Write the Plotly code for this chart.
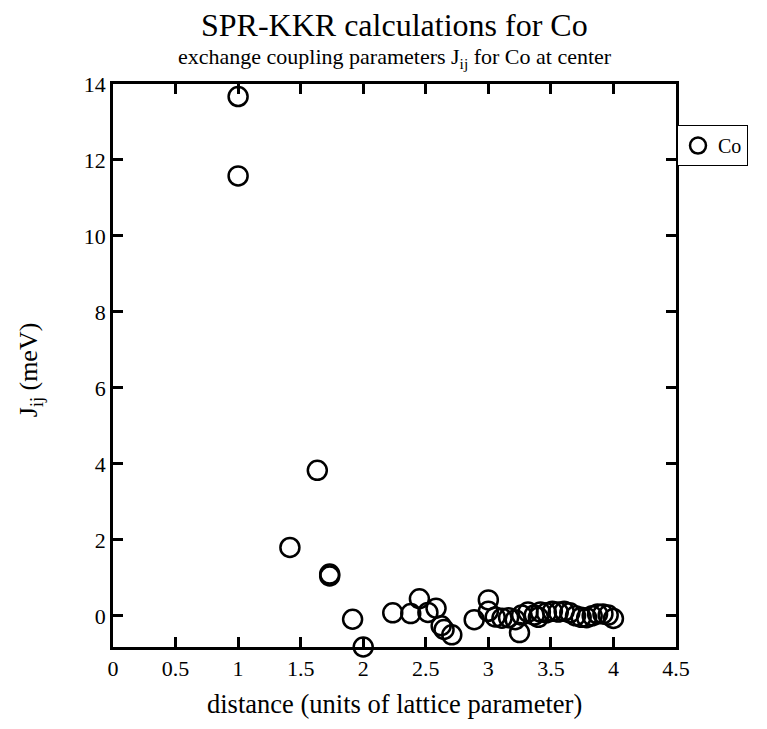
import plotly.graph_objects as go

distance = [1.0, 1.0, 1.414, 1.633, 1.732, 1.732, 1.915, 2.0, 2.236, 2.380,
            2.449, 2.517, 2.582, 2.623, 2.646, 2.708, 2.887, 3.0, 3.0, 3.055,
            3.109, 3.162, 3.215, 3.249, 3.266, 3.317, 3.367, 3.40, 3.416, 3.464,
            3.512, 3.559, 3.606, 3.651, 3.697, 3.742, 3.786, 3.830, 3.873, 3.916,
            3.958, 4.0]
jij = [13.67, 11.58, 1.80, 3.83, 1.10, 1.05, -0.09, -0.82, 0.08, 0.06,
       0.45, 0.09, 0.20, -0.26, -0.36, -0.50, -0.10, 0.42, 0.12, -0.03,
       -0.06, -0.05, -0.10, -0.44, 0.02, 0.10, 0.02, -0.04, 0.10, 0.08,
       0.12, 0.10, 0.12, 0.08, 0.0, -0.04, -0.05, 0.0, 0.05, 0.05,
       0.02, -0.07]
series_name = "Co"
x_ticks = [0, 0.5, 1, 1.5, 2, 2.5, 3, 3.5, 4, 4.5]
x_tick_labels = ["0", "0.5", "1", "1.5", "2", "2.5", "3", "3.5", "4", "4.5"]
y_ticks = [0, 2, 4, 6, 8, 10, 12, 14]

FONT = "Liberation Serif, Times New Roman, serif"

fig = go.Figure()
fig.add_trace(go.Scatter(
    x=distance, y=jij, mode="markers", name=series_name,
    cliponaxis=False,
    marker=dict(symbol="circle-open", size=19, color="black", line=dict(width=2.5)),
))

axis_common = dict(
    showline=True, linecolor="black", linewidth=2.5, mirror="allticks",
    ticks="inside", ticklen=10, tickwidth=2.5, tickcolor="black",
    showgrid=False, zeroline=False,
    tickfont=dict(family=FONT, size=22, color="black"),
)

fig.update_layout(
    width=751, height=713,
    paper_bgcolor="white", plot_bgcolor="white",
    margin=dict(l=105, r=82, t=76, b=74),
    font=dict(family=FONT, color="black"),
    xaxis=dict(range=[0, 4.5], tickvals=x_ticks, ticktext=x_tick_labels, **axis_common),
    yaxis=dict(range=[-0.82, 14], tickvals=y_ticks, **axis_common),
    showlegend=True,
    legend=dict(x=1.0, xanchor="left", xref="paper", y=0.927, yanchor="top",
                bgcolor="white", bordercolor="black", borderwidth=1,
                font=dict(family=FONT, size=20, color="black")),
    annotations=[
        dict(text="SPR-KKR calculations for Co", xref="paper", yref="paper",
             x=0.5, y=1.104, xanchor="center", yanchor="middle", showarrow=False,
             font=dict(family=FONT, size=32, color="black")),
        dict(text="exchange coupling parameters J<sub>ij</sub> for Co at center",
             xref="paper", yref="paper", x=0.5, y=1.046, xanchor="center",
             yanchor="middle", showarrow=False,
             font=dict(family=FONT, size=22, color="black")),
        dict(text="distance (units of lattice parameter)", xref="paper", yref="paper",
             x=0.5, y=-0.101, xanchor="center", yanchor="middle", showarrow=False,
             font=dict(family=FONT, size=26.5, color="black")),
        dict(text="J<sub>ij</sub> (meV)", xref="paper", yref="paper",
             x=-0.147, y=0.492, xanchor="center", yanchor="middle", showarrow=False,
             textangle=-90, font=dict(family=FONT, size=26, color="black")),
    ],
)

fig.write_html("out.html")
